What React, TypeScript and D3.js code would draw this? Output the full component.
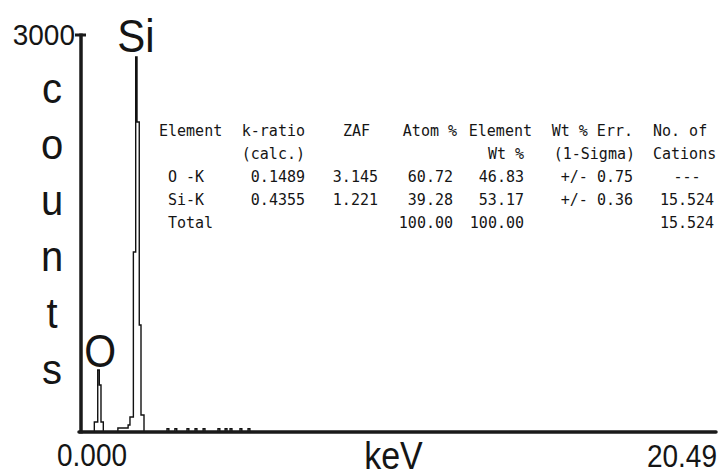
import React from "react";
import * as d3 from "d3";

// ---- data ----
// Spectrum as histogram: bin start energy (keV) and counts in that bin
const energyKeV = [
  0, 0.43, 0.54, 0.59, 0.645, 0.72,
  1.19, 1.52, 1.58, 1.69, 1.765, 1.807, 1.88, 1.936, 2.033,
  2.775, 2.835, 3.03, 3.09, 3.42, 3.48, 3.68, 3.74, 3.94, 4.0,
  4.42, 4.48, 4.65, 4.71, 4.81, 4.87, 5.13, 5.19, 5.39, 5.45,
  20.49,
];
const counts = [
  0, 76, 468, 355, 76, 0,
  30, 53, 113, 1360, 2834, 2343, 809, 128, 0,
  24, 0, 24, 0, 24, 0, 24, 0, 24, 0,
  24, 0, 24, 0, 24, 0, 24, 0, 24, 0,
  0,
];

const xDomain = [0, 20.49];
const yDomain = [0, 3000];
const xTickLabels = ["0.000", "20.49"];
const yTickLabel = "3000";
const xTitle = "keV";
const yTitle = "counts";

const peakNames = ["O", "Si"];
const peakEnergy = [0.525, 1.74];

// result table
const headerRow1 = ["Element", "k-ratio", "ZAF", "Atom %", "Element", "Wt % Err.", "No. of"];
const headerRow2 = ["", "(calc.)", "", "", "Wt %", "(1-Sigma)", "Cations"];
const elementNames = ["O -K", "Si-K", "Total"];
const kRatio = ["0.1489", "0.4355", ""];
const zaf = ["3.145", "1.221", ""];
const atomPct = ["60.72", "39.28", "100.00"];
const wtPct = ["46.83", "53.17", "100.00"];
const wtErr = ["+/- 0.75", "+/- 0.36", ""];
const cations = ["---", "15.524", "15.524"];

// ---- layout ----
const W = 718;
const H = 476;
const x = d3.scaleLinear().domain(xDomain).range([81, 716]);
const y = d3.scaleLinear().domain(yDomain).range([432, 35]);

const sans = "'Liberation Sans', Arial, Helvetica, sans-serif";
const mono = "'DejaVu Sans Mono', 'Liberation Mono', monospace";

// column layout: [anchorHeader, anchorData, xHeader1, xHeader2, xData]
const cols: [string, string, number, number, number][] = [
  ["start", "start", 159, 159, 168],
  ["end", "end", 305, 305, 305],
  ["end", "end", 370, 370, 378],
  ["end", "end", 457, 457, 453],
  ["end", "end", 532, 524, 524],
  ["end", "end", 633, 635, 633],
  ["start", "middle", 653, 653, 687],
];
const rowBase = [136, 159, 182, 205, 228];

function T({ x0, y0, size, family, anchor, children, sy = 1.1 }: any) {
  return (
    <text
      transform={`translate(${x0},${y0}) scale(1,${sy})`}
      fontSize={size}
      fontFamily={family}
      textAnchor={anchor}
      fill="#151515"
    >
      {children}
    </text>
  );
}

export default function App() {
  const pts: [number, number][] = energyKeV.map((e, i) => [e, counts[i]]);
  const line = d3
    .line<[number, number]>()
    .x((d) => x(d[0]))
    .y((d) => y(d[1]))
    .curve(d3.curveStepAfter);

  const dataCols = [elementNames, kRatio, zaf, atomPct, wtPct, wtErr, cations];

  return (
    <svg
      width={W}
      height={H}
      style={{ position: "absolute", left: 0, top: 0, background: "#fff" }}
    >
      <rect width={W} height={H} fill="#fff" />
      {/* spectrum */}
      <path d={line(pts) || ""} fill="none" stroke="#111" strokeWidth={1.4} />

      {/* axes */}
      <line x1={x(0)} x2={x(0)} y1={y(3000) - 1.5} y2={y(0) + 1.5} stroke="#1a1a1a" strokeWidth={3.5} />
      <line x1={x(0) - 2} x2={x(20.49)} y1={y(0)} y2={y(0)} stroke="#1a1a1a" strokeWidth={3.5} strokeLinecap="round" />
      <line x1={x(0) - 6} x2={x(0) + 5} y1={y(3000)} y2={y(3000)} stroke="#1a1a1a" strokeWidth={3} />

      {/* tick labels */}
      <T x0={75} y0={y(3000) + 10} size={28} family={sans} anchor="end" sy={1.08}>
        {yTickLabel}
      </T>
      <T x0={92} y0={466} size={28} family={sans} anchor="middle" sy={1.12}>
        {xTickLabels[0]}
      </T>
      <T x0={717} y0={467} size={28} family={sans} anchor="end" sy={1.12}>
        {xTickLabels[1]}
      </T>

      {/* axis titles */}
      <T x0={(x(0) + x(20.49)) / 2 - 5} y0={469} size={34} family={sans} anchor="middle" sy={1.12}>
        {xTitle}
      </T>
      {yTitle.split("").map((ch, i) => (
        <T key={i} x0={52} y0={102.5 + i * 56.3} size={40} family={sans} anchor="middle" sy={1.08}>
          {ch}
        </T>
      ))}

      {/* peak labels */}
      <T x0={x(peakEnergy[0]) + 3} y0={367} size={41} family={sans} anchor="middle" sy={1.12}>
        {peakNames[0]}
      </T>
      <T x0={x(peakEnergy[1]) + 1} y0={52} size={42} family={sans} anchor="middle" sy={1.12}>
        {peakNames[1]}
      </T>

      {/* result table */}
      {cols.map((c, ci) => (
        <g key={ci}>
          <T x0={c[2]} y0={rowBase[0]} size={15} family={mono} anchor={c[0]} sy={1.08}>
            {headerRow1[ci]}
          </T>
          {headerRow2[ci] && (
            <T x0={c[3]} y0={rowBase[1]} size={15} family={mono} anchor={c[0]} sy={1.08}>
              {headerRow2[ci]}
            </T>
          )}
          {dataCols[ci].map((v, ri) =>
            v ? (
              <T key={ri} x0={c[4]} y0={rowBase[2 + ri]} size={15} family={mono} anchor={c[1]} sy={1.08}>
                {v}
              </T>
            ) : null
          )}
        </g>
      ))}
    </svg>
  );
}
